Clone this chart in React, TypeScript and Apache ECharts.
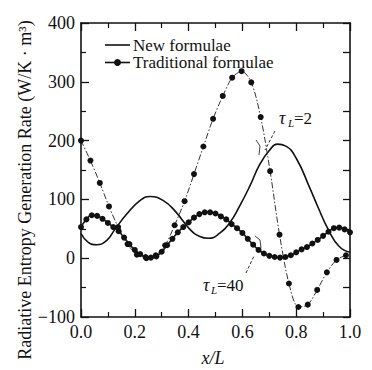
import React, { useEffect, useRef } from "react";
import * as echarts from "echarts";

// τL = 40 (new and traditional nearly coincide)
const x40 = [0, 0.02, 0.04, 0.06, 0.08, 0.1, 0.12, 0.14, 0.16, 0.18, 0.2, 0.22, 0.24, 0.26, 0.28, 0.3, 0.32, 0.34, 0.36, 0.38, 0.4, 0.42, 0.44, 0.46, 0.48, 0.5, 0.52, 0.54, 0.56, 0.58, 0.6, 0.62, 0.64, 0.66, 0.68, 0.7, 0.72, 0.74, 0.76, 0.78, 0.8, 0.82, 0.84, 0.86, 0.88, 0.9, 0.92, 0.94, 0.96, 0.98, 1.0];
const tau40 = [53, 66, 73, 72, 67, 60, 53, 46, 35, 24, 14, 7, 2, 1, 3, 11, 22, 33, 44, 53, 61, 69, 75, 78, 78, 76, 71, 66, 58, 51, 43, 33, 23, 14, 8, 4, 2, 1, 2, 5, 10, 15, 19, 25, 31, 38, 45, 51, 52, 49, 44];

// τL = 2, new formulae
const xNew2 = [0, 0.027, 0.058, 0.095, 0.126, 0.17, 0.219, 0.257, 0.306, 0.35, 0.405, 0.442, 0.473, 0.517, 0.554, 0.59, 0.628, 0.665, 0.7, 0.73, 0.76, 0.8, 0.85, 0.88, 0.92, 0.96, 1.0];
const new2 = [42, 27, 23, 30, 49, 75, 98, 105, 98, 80, 49, 37, 34, 43, 61, 89, 123, 160, 183, 194, 191, 170, 120, 88, 48, 20, 10];

// τL = 2, traditional formulae
const xTrad2 = [0, 0.035, 0.07, 0.104, 0.138, 0.173, 0.208, 0.243, 0.278, 0.313, 0.348, 0.385, 0.42, 0.455, 0.491, 0.527, 0.562, 0.597, 0.633, 0.668, 0.703, 0.738, 0.773, 0.808, 0.843, 0.878, 0.914, 0.95, 0.985];
const trad2 = [200, 166, 128, 88, 53, 24, 6, 0, 5, 22, 56, 97, 143, 190, 237, 276, 307, 318, 299, 240, 148, 40, -43, -83, -79, -54, -24, -3, 5];

const legendNames = ["New formulae", "Traditional formulae"];
const yTitle = "Radiative Entropy Generation Rate (W/K · m³)";
const xTitle = "x/L";

const FONT = "'Liberation Serif', 'Times New Roman', serif";
const INK = "#111";

const pairs = (xs: number[], ys: number[]) => xs.map((x, i) => [x, ys[i]]);

export default function App() {
  const ref = useRef<HTMLDivElement>(null);
  useEffect(() => {
    if (!ref.current) return;
    const chart = echarts.init(ref.current, undefined, { renderer: "svg" });
    const axisLine = { show: true, onZero: false, lineStyle: { color: INK, width: 1.6 } };
    const tick = { show: true, inside: true, length: 8, lineStyle: { color: INK, width: 1.3 } };
    const minor = { show: true, splitNumber: 2, length: 5, lineStyle: { color: INK, width: 1.2 } };
    const dashDot = [6, 2, 1.5, 2];
    chart.setOption({
      animation: false,
      backgroundColor: "#fff",
      grid: { left: 81, right: 22, top: 23, bottom: 53 },
      xAxis: [
        {
          type: "value", min: 0, max: 1, interval: 0.2, position: "bottom",
          axisLine, axisTick: tick, minorTick: minor, splitLine: { show: false },
          axisLabel: { color: INK, fontFamily: FONT, fontSize: 18, margin: 6, formatter: (v: number) => v.toFixed(1) },
        },
        {
          type: "value", min: 0, max: 1, interval: 0.2, position: "top",
          axisLine, axisTick: tick, minorTick: minor, splitLine: { show: false },
          axisLabel: { show: false },
        },
      ],
      yAxis: [
        {
          type: "value", min: -100, max: 400, interval: 100, position: "left",
          axisLine, axisTick: tick, minorTick: minor, splitLine: { show: false },
          axisLabel: {
            color: INK, fontFamily: FONT, fontSize: 18, margin: 6,
            formatter: (v: number) => (v < 0 ? "\u2212" + Math.abs(v) : String(v)),
          },
        },
        {
          type: "value", min: -100, max: 400, interval: 50, position: "right",
          axisLine, axisTick: { ...tick, length: 7 }, splitLine: { show: false },
          axisLabel: { show: false },
        },
      ],
      series: [
        {
          name: legendNames[0], type: "line", smooth: true, symbol: "none",
          data: pairs(xNew2, new2), lineStyle: { color: INK, width: 1.6 }, z: 3,
        },
        {
          name: legendNames[0], type: "line", smooth: true, symbol: "none",
          data: pairs(x40, tau40), lineStyle: { color: INK, width: 1.6 }, z: 3,
        },
        {
          name: legendNames[1], type: "line", smooth: 0.3, symbol: "circle", symbolSize: 6,
          data: pairs(xTrad2, trad2), itemStyle: { color: INK },
          lineStyle: { color: "#333", width: 1, type: dashDot }, z: 4,
        },
        {
          name: legendNames[1], type: "line", smooth: 0.3, symbol: "circle", symbolSize: 6,
          data: pairs(x40, tau40), itemStyle: { color: INK },
          lineStyle: { color: "#333", width: 1, type: dashDot }, z: 4,
        },
      ],
      graphic: [
        { type: "line", shape: { x1: 105, y1: 45, x2: 130, y2: 45 }, style: { stroke: INK, lineWidth: 1.6 } },
        { type: "text", x: 133, y: 45, style: { text: legendNames[0], fill: INK, font: `17px ${FONT}`, verticalAlign: "middle" } },
        { type: "line", shape: { x1: 105, y1: 62.5, x2: 130, y2: 62.5 }, style: { stroke: INK, lineWidth: 1.6 } },
        { type: "circle", shape: { cx: 117.5, cy: 62.5, r: 3.5 }, style: { fill: INK } },
        { type: "text", x: 133, y: 62.5, style: { text: legendNames[1], fill: INK, font: `17px ${FONT}`, verticalAlign: "middle" } },
        // τL=2 label
        { type: "text", x: 279, y: 118, style: { text: "τ", fill: INK, font: `italic 18px ${FONT}`, verticalAlign: "middle" } },
        { type: "text", x: 288, y: 123, style: { text: "L", fill: INK, font: `italic 11px ${FONT}`, verticalAlign: "middle" } },
        { type: "text", x: 294, y: 118, style: { text: "=2", fill: INK, font: `17px ${FONT}`, verticalAlign: "middle" } },
        { type: "line", shape: { x1: 275, y1: 131, x2: 265, y2: 150 }, style: { stroke: INK, lineWidth: 0.9, lineDash: [3, 2] } },
        { type: "polyline", shape: { points: [[256, 140], [260, 146], [259, 155]] }, style: { stroke: INK, lineWidth: 0.8, fill: null } },
        // τL=40 label
        { type: "text", x: 203, y: 285, style: { text: "τ", fill: INK, font: `italic 18px ${FONT}`, verticalAlign: "middle" } },
        { type: "text", x: 211, y: 290, style: { text: "L", fill: INK, font: `italic 11px ${FONT}`, verticalAlign: "middle" } },
        { type: "text", x: 217, y: 285, style: { text: "=40", fill: INK, font: `17px ${FONT}`, verticalAlign: "middle" } },
        { type: "line", shape: { x1: 246, y1: 273, x2: 254, y2: 256 }, style: { stroke: INK, lineWidth: 0.9, lineDash: [3, 2] } },
        { type: "polyline", shape: { points: [[255, 236], [260, 240], [261, 248]] }, style: { stroke: INK, lineWidth: 0.8, fill: null } },
        // axis titles
        { type: "text", x: 25, y: 190, rotation: Math.PI / 2, style: { text: yTitle, fill: INK, font: `18px ${FONT}`, align: "center", verticalAlign: "middle" } },
        { type: "text", x: 213, y: 358, style: { text: xTitle, fill: INK, font: `italic 18px ${FONT}`, align: "center", verticalAlign: "middle" } },
      ],
    });
    return () => chart.dispose();
  }, []);
  return <div ref={ref} style={{ width: 372, height: 370, position: "absolute", left: 0, top: 0 }} />;
}
